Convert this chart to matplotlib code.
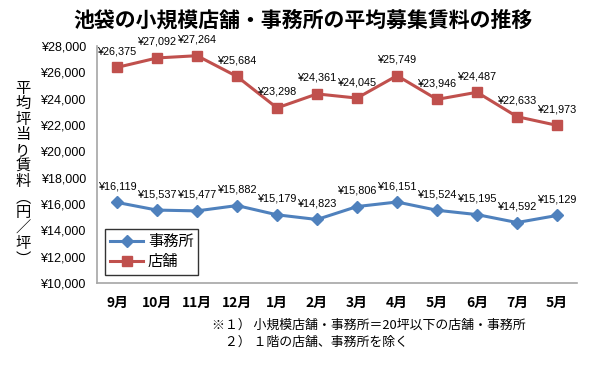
import matplotlib
matplotlib.use("Agg")
import matplotlib.pyplot as plt
from matplotlib.ticker import FuncFormatter

plt.rcParams["font.family"] = ["Noto Sans CJK JP", "DejaVu Sans"]

# ── data ──────────────────────────────────────────────────────────────────────
months = ["9月", "10月", "11月", "12月", "1月", "2月", "3月", "4月", "5月", "6月", "7月", "5月"]
office = [16119, 15537, 15477, 15882, 15179, 14823, 15806, 16151, 15524, 15195, 14592, 15129]
shop   = [26375, 27092, 27264, 25684, 23298, 24361, 24045, 25749, 23946, 24487, 22633, 21973]
yticks = list(range(10000, 28001, 2000))

BLUE = "#4F81BD"
RED  = "#C0504D"

fig = plt.figure(figsize=(6.0, 3.66), dpi=100)
ax = fig.add_axes([0.1617, 0.2268, 0.80, 0.6475])

x = list(range(len(months)))
ax.plot(x, office, color=BLUE, lw=2.2, marker="D", ms=6.5, label="事務所", zorder=3)
ax.plot(x, shop, color=RED, lw=2.2, marker="s", ms=7, label="店舗", zorder=3)

for series in (office, shop):
    for xi, v in zip(x, series):
        ax.annotate(f"¥{v:,}", (xi, v), xytext=(0, 11.5), textcoords="offset points",
                    ha="center", va="center", fontsize=7.8, family="Liberation Sans")

ax.set_xlim(-0.5, len(months) - 0.5)
ax.set_ylim(10000, 28000)
ax.set_yticks(yticks)
ax.yaxis.set_major_formatter(FuncFormatter(lambda v, p: f"¥{int(v):,}"))
ax.set_xticks(x)
ax.set_xticklabels(months, fontsize=10, fontweight="bold")
ax.tick_params(axis="y", length=0, pad=8, labelsize=9)
ax.tick_params(axis="x", length=0, pad=9)
for lbl in ax.get_yticklabels():
    lbl.set_family("Liberation Sans")

for s in ["top", "right"]:
    ax.spines[s].set_visible(False)
for s in ["left", "bottom"]:
    ax.spines[s].set_color("#A6A6A6")
    ax.spines[s].set_linewidth(1.2)

leg = ax.legend(loc="lower left", bbox_to_anchor=(0.017, 0.034), borderaxespad=0,
                fontsize=11, frameon=True, fancybox=False, handlelength=2.2,
                borderpad=0.3, labelspacing=0.2, handletextpad=0.3)
leg.get_frame().set_edgecolor("black")
leg.get_frame().set_linewidth(1.0)

fig.text(0.505, 0.945, "池袋の小規模店舗・事務所の平均募集賃料の推移",
         ha="center", va="center", fontsize=15, fontweight="bold")

ylab = "平均坪当り賃料︵円／坪︶"
fig.text(0.038, 0.525, "\n".join(ylab), ha="center", va="center",
         fontsize=11, linespacing=0.89)

fig.text(0.353, 0.112, "※１） 小規模店舗・事務所＝20坪以下の店舗・事務所",
         ha="left", va="center", fontsize=9.3)
fig.text(0.353, 0.065, "　２） １階の店舗、事務所を除く",
         ha="left", va="center", fontsize=9.3)

fig.savefig("out.png", dpi=100)
